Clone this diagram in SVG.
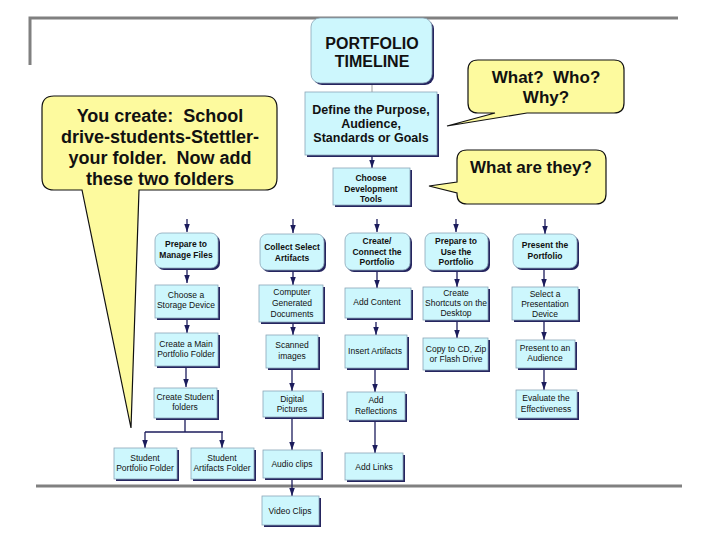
<svg xmlns="http://www.w3.org/2000/svg" width="720" height="540" viewBox="0 0 720 540">
<defs>
<style>
.bx{fill:#cdf7fd;stroke:#8aa6b8;stroke-width:0.8}
.sh{fill:#25255f}
.t{font-family:"Liberation Sans",Arial,sans-serif;font-size:8.5px;fill:#111;text-anchor:middle}
.tb{font-family:"Liberation Sans",Arial,sans-serif;font-size:8.5px;font-weight:bold;fill:#111;text-anchor:middle}
.big{font-family:"Liberation Sans",Arial,sans-serif;font-weight:bold;fill:#111;text-anchor:middle;white-space:pre}
.call{fill:#fdfa9e;stroke:#111;stroke-width:1.2}
.ln{stroke:#1c1c5c;stroke-width:1.3;fill:none}
.gl{stroke:#808080;stroke-width:3;fill:none}
</style>
<marker id="ah" viewBox="0 0 10 10" refX="10" refY="5" markerWidth="8" markerHeight="5.5" markerUnits="userSpaceOnUse" orient="auto" preserveAspectRatio="none">
<path d="M0,0 L10,5 L0,10 z" fill="#1c1c5c"/>
</marker>
</defs>
<rect width="720" height="540" fill="#fff"/>

<g id="frame">
<path class="gl" d="M30,65 V18 H678"/>
<path class="gl" d="M36,486 H682"/>
</g>

<g id="callout-left">
<path class="call" d="M54,96 H265 Q277,96 277,108 V178 Q277,190 265,190 H139 L131,428 L82,190 H54 Q42,190 42,178 V108 Q42,96 54,96 Z"/>
<text class="big" font-size="18" x="160" y="122" xml:space="preserve">You create:  School</text>
<text class="big" font-size="18" x="160" y="143">drive-students-Stettler-</text>
<text class="big" font-size="18" x="160" y="164" xml:space="preserve">your folder.  Now add</text>
<text class="big" font-size="18" x="160" y="185">these two folders</text>
</g>

<g id="callout-why">
<path class="call" d="M478,60 H614 Q624,60 624,70 V103 Q624,113 614,113 H527 L447,126 L495,113 H478 Q468,113 468,103 V70 Q468,60 478,60 Z"/>
<text class="big" font-size="17" x="546" y="83" xml:space="preserve">What?  Who?</text>
<text class="big" font-size="17" x="546" y="103">Why?</text>
</g>

<g id="callout-what">
<path class="call" d="M467,150 H596 Q606,150 606,160 V194 Q606,204 596,204 H467 Q457,204 457,194 V193 L429,186 L457,182 V160 Q457,150 467,150 Z"/>
<text class="big" font-size="17" x="531" y="173">What are they?</text>
</g>

<g id="connectors">
<line x1="372" y1="83" x2="372" y2="92" stroke="#a0a0a0" stroke-width="1"/>
<line class="ln" x1="372" y1="157" x2="372" y2="168" marker-end="url(#ah)"/>
<line class="ln" x1="187" y1="219" x2="187" y2="232" marker-end="url(#ah)"/>
<line class="ln" x1="293" y1="219" x2="293" y2="233" marker-end="url(#ah)"/>
<line class="ln" x1="377" y1="219" x2="377" y2="232" marker-end="url(#ah)"/>
<line class="ln" x1="456" y1="219" x2="456" y2="232" marker-end="url(#ah)"/>
<line class="ln" x1="545" y1="219" x2="545" y2="234" marker-end="url(#ah)"/>
<line class="ln" x1="187" y1="269" x2="187" y2="283" marker-end="url(#ah)"/>
<line class="ln" x1="187" y1="320" x2="187" y2="333" marker-end="url(#ah)"/>
<line class="ln" x1="186" y1="368" x2="186" y2="387" marker-end="url(#ah)"/>
<path class="ln" d="M185,418 V432 M145,432 H223"/>
<line class="ln" x1="145" y1="432" x2="145" y2="448" marker-end="url(#ah)"/>
<line class="ln" x1="222" y1="432" x2="222" y2="448" marker-end="url(#ah)"/>
<line class="ln" x1="293" y1="270" x2="293" y2="285" marker-end="url(#ah)"/>
<line class="ln" x1="293" y1="322" x2="293" y2="335" marker-end="url(#ah)"/>
<line class="ln" x1="292" y1="368" x2="292" y2="391" marker-end="url(#ah)"/>
<line class="ln" x1="292" y1="417" x2="292" y2="450" marker-end="url(#ah)"/>
<line class="ln" x1="292" y1="478" x2="292" y2="496" marker-end="url(#ah)"/>
<line class="ln" x1="377" y1="270" x2="377" y2="288" marker-end="url(#ah)"/>
<line class="ln" x1="376" y1="322" x2="376" y2="335" marker-end="url(#ah)"/>
<line class="ln" x1="375" y1="368" x2="375" y2="392" marker-end="url(#ah)"/>
<line class="ln" x1="375" y1="420" x2="375" y2="453" marker-end="url(#ah)"/>
<line class="ln" x1="457" y1="270" x2="457" y2="287" marker-end="url(#ah)"/>
<line class="ln" x1="457" y1="320" x2="457" y2="338" marker-end="url(#ah)"/>
<line class="ln" x1="544" y1="269" x2="544" y2="287" marker-end="url(#ah)"/>
<line class="ln" x1="544" y1="320" x2="544" y2="340" marker-end="url(#ah)"/>
<line class="ln" x1="544" y1="368" x2="544" y2="390" marker-end="url(#ah)"/>
</g>

<g id="n-portfolio-timeline">
<rect class="sh" x="313" y="20" width="121" height="65" rx="9"/>
<rect class="bx" x="311" y="18" width="121" height="65" rx="9"/>
<text class="big" font-size="16" x="372" y="49">PORTFOLIO</text>
<text class="big" font-size="16" x="372" y="67">TIMELINE</text>
</g>

<g id="n-define">
<rect class="sh" x="307" y="94" width="132" height="63"/>
<rect class="bx" x="305" y="92" width="132" height="63"/>
<text class="big" font-size="12.5" x="371" y="114">Define the Purpose,</text>
<text class="big" font-size="12.5" x="371" y="128">Audience,</text>
<text class="big" font-size="12.5" x="371" y="142">Standards or Goals</text>
</g>

<g id="n-choose-tools">
<rect class="sh" x="335" y="170" width="77" height="37"/>
<rect class="bx" x="333" y="168" width="77" height="37"/>
<text class="tb" font-size="9.5" x="371" y="181">Choose</text>
<text class="tb" font-size="9.5" x="371" y="192">Development</text>
<text class="tb" font-size="9.5" x="371" y="202">Tools</text>
</g>

<g id="n-prepare-manage">
<rect class="sh" x="157" y="235" width="63" height="35" rx="7"/>
<rect class="bx" x="155" y="233" width="63" height="35" rx="7"/>
<text class="tb" x="186" y="247">Prepare to</text>
<text class="tb" x="186" y="258">Manage Files</text>
</g>

<g id="n-collect">
<rect class="sh" x="262" y="236" width="64" height="36" rx="7"/>
<rect class="bx" x="260" y="234" width="64" height="36" rx="7"/>
<text class="tb" x="292" y="250">Collect Select</text>
<text class="tb" x="292" y="261">Artifacts</text>
</g>

<g id="n-create-connect">
<rect class="sh" x="347" y="235" width="65" height="37" rx="7"/>
<rect class="bx" x="345" y="233" width="65" height="37" rx="7"/>
<text class="tb" x="377" y="244">Create/</text>
<text class="tb" x="377" y="255">Connect the</text>
<text class="tb" x="377" y="265">Portfolio</text>
</g>

<g id="n-prepare-use">
<rect class="sh" x="427" y="235" width="63" height="37" rx="7"/>
<rect class="bx" x="425" y="233" width="63" height="37" rx="7"/>
<text class="tb" x="456" y="244">Prepare to</text>
<text class="tb" x="456" y="255">Use the</text>
<text class="tb" x="456" y="265">Portfolio</text>
</g>

<g id="n-present">
<rect class="sh" x="515" y="236" width="64" height="34" rx="7"/>
<rect class="bx" x="513" y="234" width="64" height="34" rx="7"/>
<text class="tb" x="545" y="248">Present the</text>
<text class="tb" x="545" y="259">Portfolio</text>
</g>

<g id="n-storage">
<rect class="sh" x="157" y="287" width="63" height="33"/>
<rect class="bx" x="155" y="285" width="63" height="33"/>
<text class="t" x="186" y="298">Choose a</text>
<text class="t" x="186" y="308">Storage Device</text>
</g>

<g id="n-main-folder">
<rect class="sh" x="157" y="335" width="63" height="33"/>
<rect class="bx" x="155" y="333" width="63" height="33"/>
<text class="t" x="186" y="347">Create a Main</text>
<text class="t" x="186" y="357">Portfolio Folder</text>
</g>

<g id="n-student-folders">
<rect class="sh" x="156" y="390" width="63" height="30"/>
<rect class="bx" x="154" y="388" width="63" height="30"/>
<text class="t" x="185" y="400">Create Student</text>
<text class="t" x="185" y="410">folders</text>
</g>

<g id="n-student-portfolio">
<rect class="sh" x="116" y="450" width="63" height="31"/>
<rect class="bx" x="114" y="448" width="63" height="31"/>
<text class="t" x="145" y="461">Student</text>
<text class="t" x="145" y="471">Portfolio Folder</text>
</g>

<g id="n-student-artifacts">
<rect class="sh" x="193" y="450" width="63" height="31"/>
<rect class="bx" x="191" y="448" width="63" height="31"/>
<text class="t" x="222" y="461">Student</text>
<text class="t" x="222" y="471">Artifacts Folder</text>
</g>

<g id="n-computer-docs">
<rect class="sh" x="261" y="287" width="64" height="37"/>
<rect class="bx" x="259" y="285" width="64" height="37"/>
<text class="t" x="292" y="295">Computer</text>
<text class="t" x="292" y="306">Generated</text>
<text class="t" x="292" y="317">Documents</text>
</g>

<g id="n-scanned">
<rect class="sh" x="268" y="337" width="52" height="33"/>
<rect class="bx" x="266" y="335" width="52" height="33"/>
<text class="t" x="292" y="348">Scanned</text>
<text class="t" x="292" y="359">images</text>
</g>

<g id="n-digital">
<rect class="sh" x="265" y="393" width="59" height="26"/>
<rect class="bx" x="263" y="391" width="59" height="26"/>
<text class="t" x="292" y="402">Digital</text>
<text class="t" x="292" y="412">Pictures</text>
</g>

<g id="n-audio">
<rect class="sh" x="265" y="452" width="58" height="28"/>
<rect class="bx" x="263" y="450" width="58" height="28"/>
<text class="t" x="292" y="467">Audio clips</text>
</g>

<g id="n-video">
<rect class="sh" x="264" y="498" width="57" height="29"/>
<rect class="bx" x="262" y="496" width="57" height="29"/>
<text class="t" x="290" y="514">Video Clips</text>
</g>

<g id="n-add-content">
<rect class="sh" x="347" y="290" width="66" height="30"/>
<rect class="bx" x="345" y="288" width="66" height="30"/>
<text class="t" x="377" y="305">Add Content</text>
</g>

<g id="n-insert">
<rect class="sh" x="347" y="337" width="62" height="33"/>
<rect class="bx" x="345" y="335" width="62" height="33"/>
<text class="t" x="375" y="354">Insert Artifacts</text>
</g>

<g id="n-reflections">
<rect class="sh" x="349" y="394" width="58" height="28"/>
<rect class="bx" x="347" y="392" width="58" height="28"/>
<text class="t" x="376" y="403">Add</text>
<text class="t" x="376" y="414">Reflections</text>
</g>

<g id="n-links">
<rect class="sh" x="347" y="455" width="58" height="27"/>
<rect class="bx" x="345" y="453" width="58" height="27"/>
<text class="t" x="374" y="470">Add Links</text>
</g>

<g id="n-shortcuts">
<rect class="sh" x="425" y="289" width="65" height="33"/>
<rect class="bx" x="423" y="287" width="65" height="33"/>
<text class="t" x="456" y="296">Create</text>
<text class="t" x="456" y="306">Shortcuts on the</text>
<text class="t" x="456" y="316">Desktop</text>
</g>

<g id="n-copy">
<rect class="sh" x="425" y="340" width="65" height="32"/>
<rect class="bx" x="423" y="338" width="65" height="32"/>
<text class="t" x="456" y="352">Copy to CD, Zip</text>
<text class="t" x="456" y="362">or Flash Drive</text>
</g>

<g id="n-select-device">
<rect class="sh" x="514" y="289" width="66" height="33"/>
<rect class="bx" x="512" y="287" width="66" height="33"/>
<text class="t" x="545" y="297">Select a</text>
<text class="t" x="545" y="307">Presentation</text>
<text class="t" x="545" y="317">Device</text>
</g>

<g id="n-audience">
<rect class="sh" x="518" y="342" width="59" height="28"/>
<rect class="bx" x="516" y="340" width="59" height="28"/>
<text class="t" x="545" y="351">Present to an</text>
<text class="t" x="545" y="361">Audience</text>
</g>

<g id="n-evaluate">
<rect class="sh" x="518" y="392" width="61" height="28"/>
<rect class="bx" x="516" y="390" width="61" height="28"/>
<text class="t" x="546" y="401">Evaluate the</text>
<text class="t" x="546" y="412">Effectiveness</text>
</g>
</svg>
